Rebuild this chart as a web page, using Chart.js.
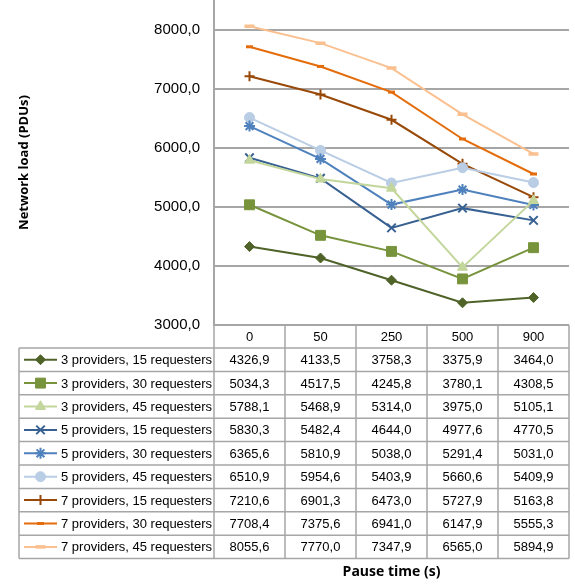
<!DOCTYPE html>
<html>
<head>
<meta charset="utf-8">
<script src="https://cdn.jsdelivr.net/npm/chart.js@4.4.1/dist/chart.umd.min.js"></script>
<style>
  html, body { margin: 0; padding: 0; background: #fff; }
  #wrap { width: 575px; height: 587px; }
</style>
</head>
<body>
<div id="wrap"><canvas id="loadChart"></canvas></div>
<script>
// Pause time categories (s)
const pauseTimes = ['0', '50', '250', '500', '900'];

// Network load per configuration
const p3r15 = [4326.9, 4133.5, 3758.3, 3375.9, 3464.0];
const p3r30 = [5034.3, 4517.5, 4245.8, 3780.1, 4308.5];
const p3r45 = [5788.1, 5468.9, 5314.0, 3975.0, 5105.1];
const p5r15 = [5830.3, 5482.4, 4644.0, 4977.6, 4770.5];
const p5r30 = [6365.6, 5810.9, 5038.0, 5291.4, 5031.0];
const p5r45 = [6510.9, 5954.6, 5403.9, 5660.6, 5409.9];
const p7r15 = [7210.6, 6901.3, 6473.0, 5727.9, 5163.8];
const p7r30 = [7708.4, 7375.6, 6941.0, 6147.9, 5555.3];
const p7r45 = [8055.6, 7770.0, 7347.9, 6565.0, 5894.9];

const seriesNames = [
    '3 providers, 15 requesters',
    '3 providers, 30 requesters',
    '3 providers, 45 requesters',
    '5 providers, 15 requesters',
    '5 providers, 30 requesters',
    '5 providers, 45 requesters',
    '7 providers, 15 requesters',
    '7 providers, 30 requesters',
    '7 providers, 45 requesters'
];
const seriesValues = [p3r15, p3r30, p3r45, p5r15, p5r30, p5r45, p7r15, p7r30, p7r45];

const yTicks = [3000, 4000, 5000, 6000, 7000, 8000];

// look of each series: colour, marker, marker size, marker stroke
const styles = [
    { color: '#4f6228', point: 'rectRot', r: 5, bw: 1 },
    { color: '#77933c', point: 'rect', r: 7, bw: 1 },
    { color: '#c3d69b', point: 'triangle', r: 5.8, bw: 1 },
    { color: '#376092', point: 'crossRot', r: 6, bw: 2 },
    { color: '#4f81bd', point: 'star', r: 5.5, bw: 2 },
    { color: '#b9cde5', point: 'circle', r: 5, bw: 1 },
    { color: '#984807', point: 'cross', r: 5, bw: 2 },
    { color: '#e46c0a', point: 'line', r: 3.5, bw: 3 },
    { color: '#fac090', point: 'line', r: 5, bw: 3.5 }
];

const fmt = v => v.toFixed(1).replace('.', ',');
const gridColor = '#a6a6a6';

// data table under the plot, columns follow the x scale
const dataTable = {
    id: 'dataTable',
    afterDraw(chart) {
        const ctx = chart.ctx;
        const xs = chart.scales.x;
        const area = chart.chartArea;
        const n = pauseTimes.length;
        const half = (area.right - area.left) / n / 2;
        const top = area.bottom;
        const headH = 23;
        const rowH = 23.4;
        const legendLeft = 19;
        const rowsTop = top + headH;
        const bottom = rowsTop + rowH * seriesNames.length;

        ctx.save();
        ctx.strokeStyle = gridColor;
        ctx.lineWidth = 1.5;
        ctx.beginPath();
        // header bottom + row lines
        for (let i = 0; i <= seriesNames.length; i++) {
            const y = rowsTop + rowH * i;
            ctx.moveTo(legendLeft, y);
            ctx.lineTo(area.right, y);
        }
        ctx.moveTo(area.left, top);
        ctx.lineTo(area.right, top);
        // column lines
        for (let i = 0; i <= n; i++) {
            const x = area.left + half * 2 * i;
            ctx.moveTo(x, top);
            ctx.lineTo(x, bottom);
        }
        ctx.moveTo(legendLeft, rowsTop);
        ctx.lineTo(legendLeft, bottom);
        ctx.stroke();

        ctx.fillStyle = '#000';
        ctx.font = '13px "Liberation Sans", Arial, sans-serif';
        ctx.textBaseline = 'middle';
        ctx.textAlign = 'center';
        pauseTimes.forEach((t, i) => {
            ctx.fillText(t, xs.getPixelForValue(i), top + headH / 2 + 1);
        });

        seriesValues.forEach((vals, r) => {
            const cy = rowsTop + rowH * r + rowH / 2 + 1;
            ctx.textAlign = 'center';
            vals.forEach((v, i) => {
                ctx.fillText(fmt(v), xs.getPixelForValue(i), cy);
            });
            // legend key
            const st = styles[r];
            ctx.strokeStyle = st.color;
            ctx.lineWidth = 2;
            ctx.beginPath();
            ctx.moveTo(24, cy - 1);
            ctx.lineTo(57, cy - 1);
            ctx.stroke();
            ctx.fillStyle = st.color;
            ctx.strokeStyle = st.color;
            ctx.lineWidth = st.bw;
            Chart.helpers.drawPoint(ctx, { pointStyle: st.point, radius: st.r, rotation: 0, borderWidth: st.bw }, 40.5, cy - 1);
            ctx.fillStyle = '#000';
            ctx.textAlign = 'left';
            ctx.fillText(seriesNames[r], 61, cy);
        });

        ctx.font = 'bold 14px "Open Sans", sans-serif';
        ctx.textAlign = 'center';
        ctx.fillText('Pause time (s)', (area.left + area.right) / 2, 572);
        ctx.restore();
    }
};

const datasets = seriesNames.map((name, i) => ({
    label: name,
    data: seriesValues[i],
    borderColor: styles[i].color,
    backgroundColor: styles[i].color,
    borderWidth: 2,
    pointStyle: styles[i].point,
    pointRadius: styles[i].r,
    pointBorderWidth: styles[i].bw,
    pointBackgroundColor: styles[i].color,
    pointBorderColor: styles[i].color,
    tension: 0
}));

new Chart(document.getElementById('loadChart').getContext('2d'), {
    type: 'line',
    data: { labels: pauseTimes, datasets: datasets },
    options: {
        responsive: true,
        maintainAspectRatio: false,
        animation: false,
        layout: { autoPadding: false, padding: { top: 0, right: 6, bottom: 262, left: 0 } },
        plugins: {
            legend: { display: false },
            tooltip: { enabled: false }
        },
        scales: {
            x: { type: 'category', offset: true, display: false },
            y: {
                min: 3000,
                max: 8500,
                afterBuildTicks: scale => { scale.ticks = yTicks.map(v => ({ value: v })); },
                afterFit: scale => {
                    scale.width = 214;
                    scale.paddingTop = 0;
                    scale.paddingBottom = 0;
                },
                ticks: {
                    padding: 14,
                    color: '#000',
                    font: { family: '"Liberation Sans", Arial, sans-serif', size: 15 },
                    callback: v => fmt(v)
                },
                grid: { color: gridColor, lineWidth: 2, drawTicks: false },
                border: { color: gridColor, width: 2 },
                title: {
                    display: true,
                    text: 'Network load (PDUs)',
                    color: '#000',
                    font: { family: '"Open Sans", sans-serif', size: 13, weight: 'bold' },
                    padding: { top: 16, bottom: 0 }
                }
            }
        }
    },
    plugins: [dataTable]
});
</script>
</body>
</html>
